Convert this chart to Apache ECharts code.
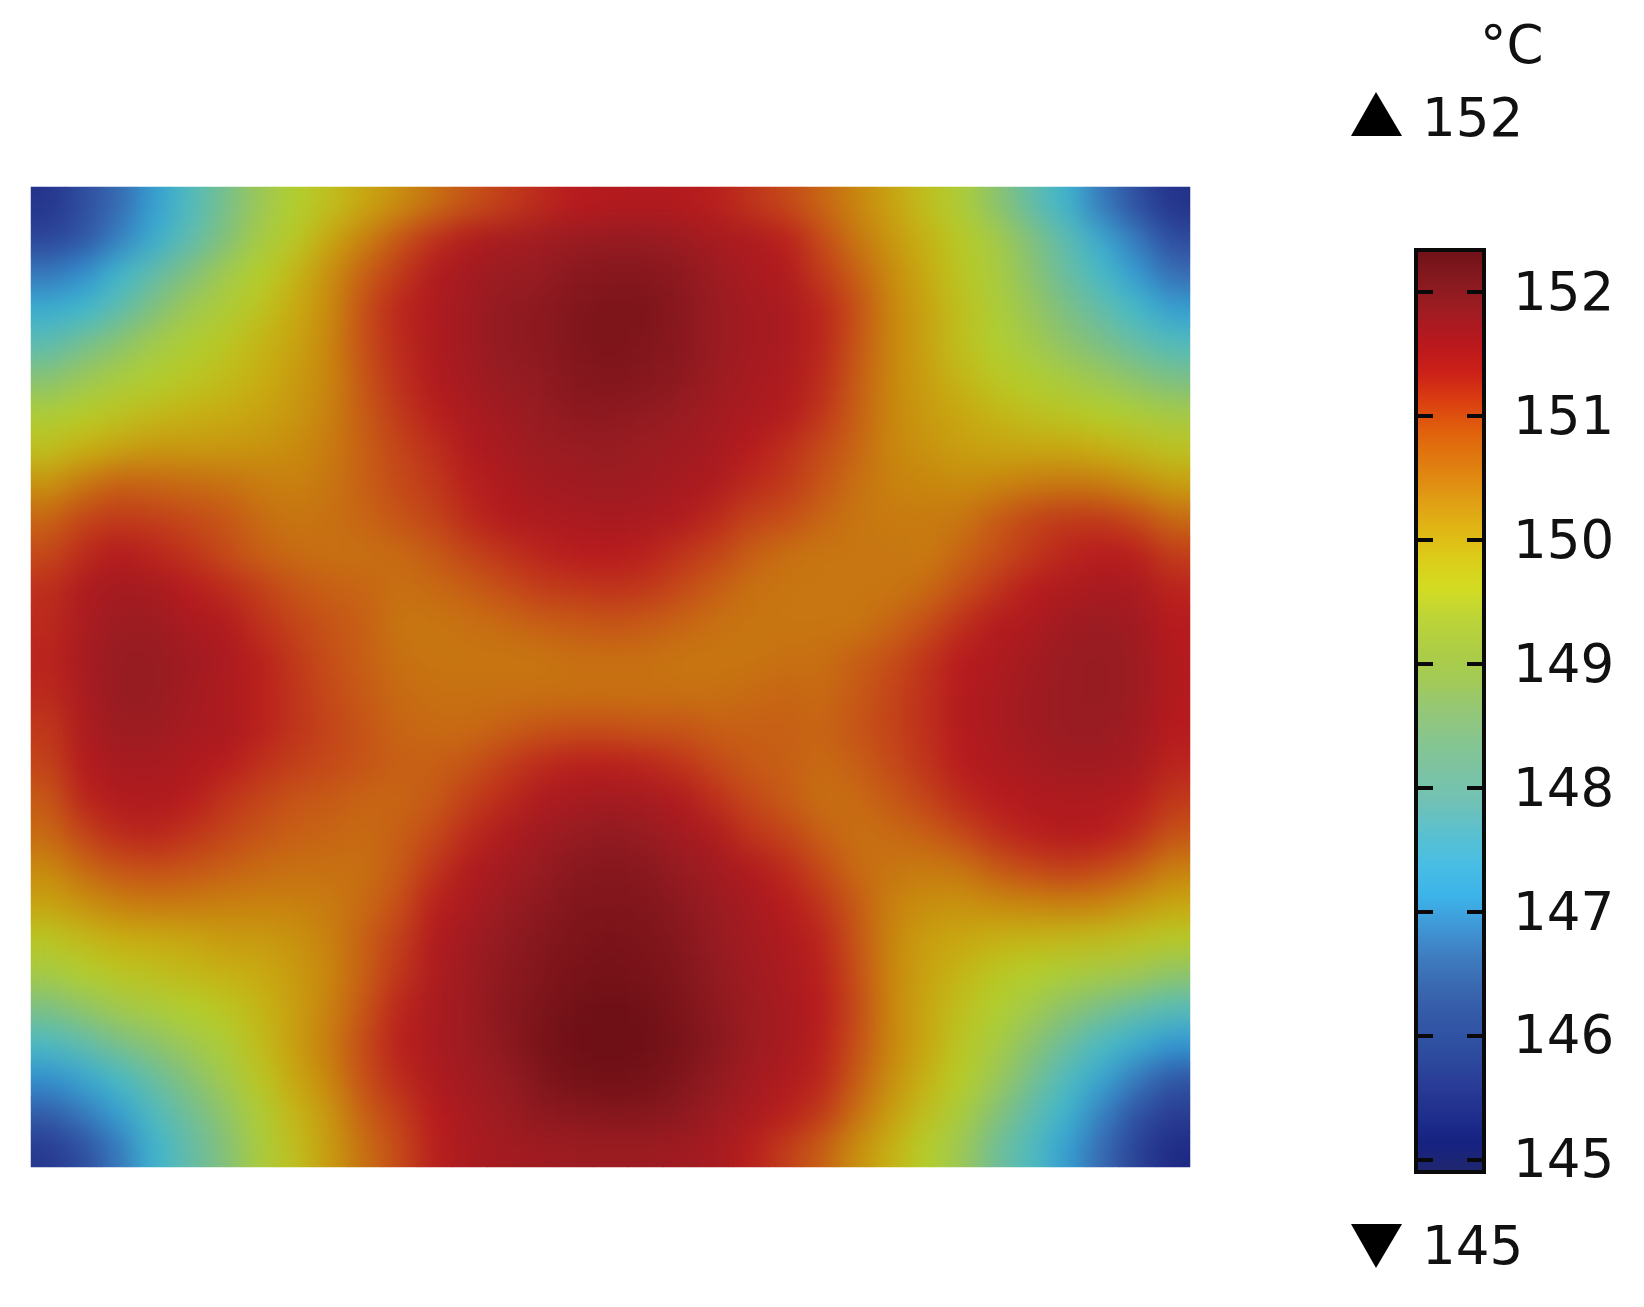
<!DOCTYPE html>
<html>
<head>
<meta charset="utf-8">
<style>
html, body { margin: 0; padding: 0; background: #fff; }
#main { width: 1644px; height: 1307px; }
/* second heatmap layer, softened and kept inside the plot */
#main canvas[data-zr-dom-id="zr_1"] { filter: url(#soft); clip-path: inset(187px 454px 140px 31px); }
</style>
<script src="https://cdn.jsdelivr.net/npm/echarts@6/dist/echarts.min.js"></script>
</head>
<body>
<svg width="0" height="0" style="position:absolute">
  <filter id="soft" x="0" y="0" width="100%" height="100%" filterUnits="objectBoundingBox" color-interpolation-filters="sRGB">
    <feGaussianBlur stdDeviation="15"/>
    <feComponentTransfer><feFuncA type="linear" slope="2"/></feComponentTransfer>
  </filter>
</svg>
<div id="main"></div>
<script>
// temperature, top row first, left to right
var tempRows = [
[145.3,145.9,146.3,147.0,147.6,148.2,148.8,149.3,149.6,149.95,150.25,150.55,150.8,151.0,151.2,151.35,151.4,151.45,151.4,151.3,151.1,150.9,150.65,150.35,150.0,149.6,149.2,148.55,147.9,147.3,146.5,145.9,145.25],
[145.7,146.0,146.6,147.2,147.8,148.4,149.0,149.45,149.95,150.4,150.8,151.15,151.45,151.6,151.7,151.8,151.85,151.85,151.75,151.6,151.5,151.3,150.9,150.5,150.15,149.8,149.45,149.0,148.4,147.8,147.15,146.5,145.85],
[146.5,146.8,147.35,147.9,148.4,148.9,149.35,149.75,150.25,150.7,151.05,151.45,151.65,151.8,151.85,152.0,152.05,152.05,151.95,151.75,151.55,151.45,151.05,150.7,150.3,149.9,149.5,149.1,148.55,148.0,147.5,146.95,146.35],
[147.2,147.35,147.85,148.4,148.85,149.2,149.55,149.9,150.3,150.85,151.25,151.5,151.7,151.9,151.95,152.1,152.15,152.15,152.0,151.8,151.65,151.55,151.25,150.85,150.35,150.0,149.6,149.2,148.75,148.3,147.9,147.45,147.0],
[147.8,148.2,148.55,148.95,149.25,149.5,149.75,150.0,150.35,150.85,151.2,151.5,151.7,151.9,151.95,152.1,152.15,152.1,152.0,151.8,151.65,151.55,151.25,150.8,150.35,150.0,149.6,149.3,148.95,148.6,148.3,147.95,147.65],
[148.5,148.8,149.1,149.3,149.5,149.65,149.85,150.1,150.35,150.8,151.15,151.45,151.65,151.85,151.9,152.05,152.1,152.05,151.95,151.75,151.6,151.5,151.2,150.75,150.35,150.05,149.75,149.5,149.3,149.05,148.8,148.55,148.3],
[149.2,149.4,149.55,149.7,149.8,149.9,150.0,150.15,150.4,150.75,151.05,151.3,151.55,151.7,151.85,151.95,151.95,151.9,151.8,151.65,151.55,151.4,151.1,150.7,150.35,150.1,149.95,149.75,149.6,149.5,149.35,149.2,149.0],
[149.6,149.85,150.0,150.15,150.15,150.15,150.2,150.3,150.45,150.7,150.95,151.15,151.45,151.6,151.75,151.8,151.85,151.75,151.7,151.6,151.35,151.15,150.9,150.65,150.35,150.2,150.05,150.0,149.95,149.95,149.85,149.7,149.55],
[150.2,150.5,150.7,150.65,150.6,150.55,150.45,150.4,150.5,150.7,150.9,151.05,151.3,151.5,151.65,151.7,151.75,151.7,151.6,151.5,151.2,151.05,150.8,150.55,150.4,150.35,150.3,150.35,150.45,150.5,150.45,150.3,150.05],
[150.65,150.95,151.05,151.0,150.9,150.8,150.6,150.5,150.55,150.65,150.8,150.95,151.2,151.4,151.5,151.55,151.6,151.55,151.45,151.2,150.95,150.85,150.65,150.5,150.45,150.45,150.5,150.75,150.95,151.05,151.05,150.9,150.6],
[150.9,151.2,151.4,151.25,151.1,150.9,150.7,150.6,150.55,150.55,150.6,150.75,150.95,151.1,151.25,151.35,151.35,151.3,151.1,150.95,150.7,150.55,150.5,150.5,150.5,150.45,150.65,150.85,151.05,151.25,151.35,151.3,151.0],
[151.15,151.5,151.65,151.6,151.35,151.2,151.0,150.8,150.7,150.65,150.55,150.6,150.7,150.85,151.0,151.05,151.1,151.05,150.9,150.7,150.55,150.5,150.5,150.5,150.5,150.6,150.85,151.1,151.35,151.5,151.6,151.55,151.25],
[151.2,151.55,151.75,151.75,151.55,151.45,151.15,150.95,150.8,150.7,150.5,150.5,150.55,150.6,150.7,150.75,150.8,150.75,150.65,150.55,150.5,150.5,150.5,150.5,150.65,150.85,151.15,151.4,151.5,151.7,151.8,151.7,151.35],
[151.25,151.6,151.85,151.85,151.7,151.55,151.3,151.05,150.85,150.7,150.55,150.5,150.5,150.5,150.5,150.55,150.55,150.55,150.5,150.5,150.5,150.55,150.55,150.7,150.85,151.1,151.35,151.5,151.65,151.8,151.85,151.75,151.4],
[151.2,151.55,151.85,151.85,151.65,151.5,151.3,151.1,150.9,150.75,150.6,150.55,150.55,150.55,150.55,150.55,150.55,150.55,150.55,150.55,150.6,150.65,150.6,150.75,150.95,151.15,151.4,151.55,151.7,151.8,151.85,151.75,151.4],
[151.05,151.5,151.75,151.75,151.6,151.55,151.3,151.1,150.95,150.8,150.65,150.6,150.6,150.7,150.8,150.85,150.85,150.8,150.8,150.7,150.7,150.7,150.65,150.8,150.95,151.15,151.4,151.55,151.7,151.8,151.8,151.7,151.35],
[150.95,151.4,151.6,151.6,151.5,151.35,151.15,151.0,150.9,150.8,150.7,150.7,150.8,151.0,151.2,151.3,151.3,151.25,151.1,150.9,150.75,150.7,150.6,150.7,150.9,151.1,151.35,151.5,151.6,151.7,151.7,151.6,151.25],
[150.75,151.25,151.45,151.5,151.35,151.1,150.95,150.8,150.75,150.65,150.65,150.75,151.0,151.2,151.5,151.6,151.65,151.6,151.45,151.15,150.9,150.75,150.55,150.6,150.75,150.95,151.2,151.35,151.45,151.5,151.5,151.35,151.05],
[150.6,150.95,151.2,151.25,151.1,150.95,150.8,150.7,150.65,150.6,150.7,150.9,151.2,151.5,151.7,151.85,151.9,151.85,151.65,151.5,151.1,150.95,150.7,150.55,150.6,150.7,150.9,151.15,151.3,151.4,151.35,151.15,150.8],
[150.3,150.6,150.8,150.85,150.8,150.7,150.6,150.55,150.55,150.55,150.75,151.1,151.45,151.65,151.85,152.0,152.05,152.0,151.85,151.65,151.45,151.2,150.9,150.6,150.5,150.45,150.5,150.75,150.9,151.0,150.9,150.7,150.4],
[150.0,150.2,150.4,150.45,150.45,150.4,150.4,150.4,150.45,150.6,150.85,151.3,151.55,151.8,151.95,152.1,152.1,152.1,151.95,151.8,151.6,151.35,151.1,150.75,150.4,150.25,150.2,150.3,150.35,150.4,150.35,150.15,149.95],
[149.5,149.7,149.85,149.9,149.95,150.1,150.1,150.2,150.4,150.7,151.0,151.45,151.7,151.9,152.05,152.15,152.2,152.15,152.05,151.85,151.65,151.5,151.25,150.8,150.35,150.05,149.95,149.8,149.75,149.7,149.65,149.55,149.45],
[149.0,149.3,149.5,149.6,149.7,149.8,149.9,150.1,150.35,150.7,151.1,151.5,151.75,151.95,152.1,152.2,152.25,152.2,152.1,151.9,151.7,151.55,151.3,150.85,150.35,150.0,149.75,149.5,149.35,149.15,149.0,148.85,148.6],
[148.3,148.6,148.9,149.1,149.35,149.5,149.75,150.05,150.4,150.8,151.25,151.55,151.75,152.0,152.15,152.3,152.35,152.3,152.15,151.95,151.75,151.6,151.35,150.9,150.35,149.95,149.6,149.3,148.9,148.55,148.25,147.95,147.7],
[147.55,147.85,148.25,148.55,148.85,149.2,149.65,150.05,150.45,150.9,151.3,151.55,151.75,151.95,152.2,152.33,152.34,152.33,152.2,152.0,151.75,151.6,151.3,150.85,150.35,149.95,149.5,149.05,148.55,148.05,147.55,147.2,146.9],
[146.8,147.1,147.5,148.0,148.45,148.9,149.5,149.95,150.35,150.85,151.2,151.5,151.7,151.85,152.1,152.25,152.3,152.25,152.1,151.9,151.65,151.5,151.25,150.75,150.25,149.8,149.4,148.8,148.2,147.6,147.1,146.5,146.0],
[146.1,146.5,147.0,147.6,148.1,148.6,149.2,149.75,150.15,150.7,151.0,151.35,151.6,151.75,151.95,152.0,152.05,152.05,151.95,151.75,151.55,151.3,151.05,150.55,150.05,149.6,149.1,148.45,147.85,147.3,146.6,145.95,145.5],
[145.4,145.9,146.5,147.3,147.9,148.4,149.1,149.6,150.1,150.55,150.9,151.3,151.55,151.65,151.7,151.75,151.75,151.75,151.7,151.6,151.3,151.0,150.7,150.25,149.8,149.35,148.8,148.1,147.6,147.0,146.3,145.6,145.1]
];
var tickValues = [145, 146, 147, 148, 149, 150, 151, 152];
var scaleMin = 144.9;
var scaleMax = 152.34;
var unitText = '°C';
var maxText = '152';
var minText = '145';

// the plot is a bit duller than its colour bar
var plotColors = ['#18207e','#27398f','#2f4c9e','#3a6fb5','#3296d4','#3fbbd0','#62bcac','#80c080','#a0c850','#b4d02a','#c8ae12','#c8860e','#c64e18','#b81a1e','#961c22','#6e1016'];
var barColors = ['#20266e','#152282','#22308e','#2a3e98','#2e4ea0','#3358a6','#3a68b0','#3f7cc0','#3f98d6','#3cb4ea','#48bde4','#5ac0d0','#70c2b6','#7cc3a4','#86c590','#94c778','#a2ca56','#aecd44','#bcd438','#d3dc22','#dccc18','#e0b414','#e09a14','#e07e10','#e0640c','#dc4210','#cc2018','#b8181e','#a01c22','#861a20','#6f1218'];

var xCats = tempRows[0].map(function (v, i) { return i; });
var yCats = tempRows.map(function (r, j) { return j; });
var heatData = [];
tempRows.forEach(function (row, j) {
    row.forEach(function (v, i) {
        heatData.push([i, j, v]);
    });
});

var labelFont = '53px "DejaVu Sans"';
var myChart = echarts.init(document.getElementById('main'));
var option = {
    animation: false,
    backgroundColor: '#fff',
    grid: [
        { left: 31, top: 187, width: 1159, height: 980 },
        { left: 1416, top: 250, width: 68, height: 922, show: true, backgroundColor: 'transparent', borderColor: '#0a0a0a', borderWidth: 4, z: 5 }
    ],
    xAxis: [
        { type: 'category', data: xCats, gridIndex: 0, show: false },
        { type: 'value', gridIndex: 1, show: false }
    ],
    yAxis: [
        { type: 'category', data: yCats, gridIndex: 0, show: false, inverse: true },
        {
            type: 'value', gridIndex: 1, position: 'left', min: scaleMin, max: scaleMax, z: 10,
            splitLine: { show: false },
            axisLine: { show: false },
            axisLabel: { show: false },
            axisTick: { show: true, inside: true, length: 17, customValues: tickValues, lineStyle: { color: '#0a0a0a', width: 4 } }
        },
        {
            type: 'value', gridIndex: 1, position: 'right', min: scaleMin, max: scaleMax, z: 10,
            splitLine: { show: false },
            axisLine: { show: false },
            axisLabel: {
                show: true, customValues: tickValues, margin: 29,
                formatter: '{n|{value}}',
                rich: { n: { padding: [8, 0, 0, 0], color: '#111', fontFamily: 'DejaVu Sans', fontSize: 53 } }
            },
            axisTick: { show: true, inside: true, length: 17, customValues: tickValues, lineStyle: { color: '#0a0a0a', width: 4 } }
        }
    ],
    visualMap: [
        {
            type: 'continuous', seriesIndex: [0, 2], show: false,
            min: scaleMin, max: scaleMax,
            inRange: { color: plotColors }
        },
        {
            type: 'continuous', seriesIndex: 1, show: true,
            min: scaleMin, max: scaleMax,
            left: 1416, top: 250, itemWidth: 68, itemHeight: 922,
            padding: 0, text: null, showLabel: false, calculable: false, hoverLink: false, z: 1,
            textStyle: { color: 'transparent' },
            inRange: { color: barColors }
        }
    ],
    series: [
        {
            type: 'heatmap', xAxisIndex: 0, yAxisIndex: 0, data: heatData, progressive: 0,
            emphasis: { disabled: true }
        },
        { type: 'line', xAxisIndex: 1, yAxisIndex: 1, data: [] },
        {
            type: 'heatmap', xAxisIndex: 0, yAxisIndex: 0, data: heatData, progressive: 0, zlevel: 1,
            emphasis: { disabled: true }
        }
    ],
    graphic: [
        { type: 'text', left: 1480, top: 23, style: { text: unitText, font: labelFont, fill: '#111' } },
        { type: 'polygon', shape: { points: [[1376, 92], [1402, 136], [1351, 136]] }, style: { fill: '#000' } },
        { type: 'text', left: 1422, top: 96, style: { text: maxText, font: labelFont, fill: '#111' } },
        { type: 'polygon', shape: { points: [[1351, 1224], [1402, 1224], [1376, 1268]] }, style: { fill: '#000' } },
        { type: 'text', left: 1422, top: 1224, style: { text: minText, font: labelFont, fill: '#111' } }
    ]
};
myChart.setOption(option);
window.onresize = myChart.resize;
</script>
</body>
</html>
